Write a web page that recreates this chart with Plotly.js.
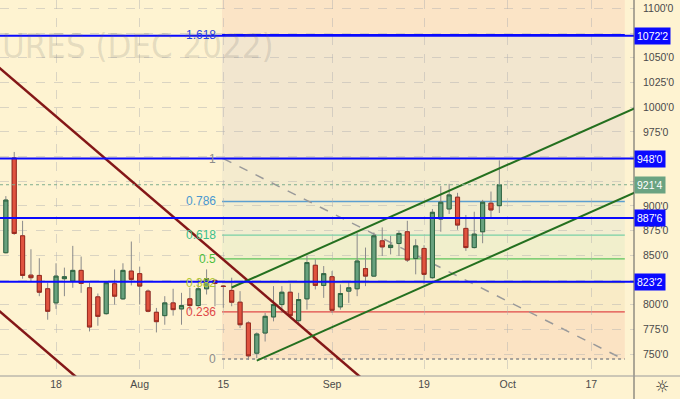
<!DOCTYPE html>
<html><head><meta charset="utf-8">
<script src="https://cdn.plot.ly/plotly-3.0.1.min.js"></script>
<style>html,body{margin:0;padding:0;background:#fef3d1;}#chart{width:680px;height:399px;}</style>
</head><body><div id="chart"></div>
<script>
// ---- data ----
const dates = ["2022-07-08","2022-07-11","2022-07-12","2022-07-13","2022-07-14","2022-07-15","2022-07-18","2022-07-19","2022-07-20","2022-07-21","2022-07-22","2022-07-25","2022-07-26","2022-07-27","2022-07-28","2022-07-29","2022-08-01","2022-08-02","2022-08-03","2022-08-04","2022-08-05","2022-08-08","2022-08-09","2022-08-10","2022-08-11","2022-08-12","2022-08-15","2022-08-16","2022-08-17","2022-08-18","2022-08-19","2022-08-22","2022-08-23","2022-08-24","2022-08-25","2022-08-26","2022-08-29","2022-08-30","2022-08-31","2022-09-01","2022-09-02","2022-09-06","2022-09-07","2022-09-08","2022-09-09","2022-09-12","2022-09-13","2022-09-14","2022-09-15","2022-09-16","2022-09-19","2022-09-20","2022-09-21","2022-09-22","2022-09-23","2022-09-26","2022-09-27","2022-09-28","2022-09-29","2022-09-30"];
const futureDates = ["2022-10-03","2022-10-04","2022-10-05","2022-10-06","2022-10-07","2022-10-10","2022-10-11","2022-10-12","2022-10-13","2022-10-14","2022-10-17","2022-10-18","2022-10-19","2022-10-20","2022-10-21"];
const opens  = [852.7,948.6,869.8,830,829.7,816.2,801.9,826.4,824,834.8,817.2,808,791,821.3,806,834.1,831.5,813.8,792.4,789,801.9,795.8,806,799.2,816.2,824.7,819,814.5,802.6,781.6,751,771.4,787.7,800.2,812.7,783.9,806,840,819.6,828.4,797.9,813.8,816.2,836.6,829,864.7,857.9,862,873.9,846.8,857,827.4,886.8,897,908.9,877.3,857.9,873.9,902.8,900.3];
const highs  = [910,954.7,885,856.2,847.1,822.3,842,837.6,859.6,848.8,822.3,811.4,824,835.8,842,864,838.6,815.5,796.8,808.7,816.2,812.1,817.2,826.4,835.8,826,820,827.4,813.8,783.2,772,791.8,818.9,818.9,821.6,812.1,849.4,846,839.2,834.1,820.6,824,872.5,857.9,873.2,878.3,869.8,874.9,885,866.4,860.3,897,920.1,922.4,913.3,890.9,894.2,906.2,914.6,946.2];
const lows   = [852,870.8,826.4,824,808.7,784.9,795.8,808.7,817.2,812.1,773,778.8,790,800.2,805,819.6,800.2,792.4,772,779.8,789,779.8,794.4,798,810.4,798.5,797,798.5,776.5,744.2,746,762.8,783.2,791.8,788,781.6,795.1,815.5,807,791.8,795.1,801.9,808.7,818.9,828.4,849.4,851,849.4,843.3,830.8,820.6,826.4,873.9,891.9,875.9,854.5,857,862.3,888.5,892.9];
const closes = [906,872.2,829.7,827.4,812.7,793.4,829,828.4,834.8,821.6,777.5,788.3,822.3,808.7,834.8,825.7,818.9,793.4,782.9,801.9,795.1,799.2,799.2,816.2,826.4,821.6,818.5,802.6,779.8,748.3,770.4,788.3,800.2,812.7,789,805.3,842.7,819.6,831.5,794.4,811.4,817.2,844.3,829,869.8,858.6,860.3,872.2,845.3,859.6,830.8,893.6,903.8,911.2,880.7,857.9,871.5,903.8,896,921.5];

const tickDates  = ["2022-07-18","2022-08-01","2022-08-15","2022-09-01","2022-09-19","2022-10-03","2022-10-17"];
const tickLabels = ["18","Aug","15","Sep","19","Oct","17"];
const priceTicks = [750,775,800,825,850,875,900,925,950,975,1000,1025,1050,1075,1100];
const priceTickLabels = ["750'0","775'0","800'0","","850'0","875'0","900'0","","","975'0","1000'0","1025'0","1050'0","","1100'0"];

const levelPrices = [1072.25, 948, 887.75, 823.25];
const levelLabels = ["1072'2","948'0","887'6","823'2"];
const lastPrice = 921.5;
const lastPriceLabel = "921'4";

const fibRatios = [0, 0.236, 0.382, 0.5, 0.618, 0.786, 1, 1.618];
const fibLabels = ["0","0.236","0.382","0.5","0.618","0.786","1","1.618"];
const fibHigh = ["2022-08-15", 948];
const fibLow  = ["2022-10-21", 745];

const maroonUpper = [["2022-07-08",1034.3],["2022-08-31",758.6]];
const maroonLower = [["2022-07-08",787.9],["2022-07-15",751.6]];
const channelUpper = [["2022-08-16",817.5],["2022-10-21",994.5]];
const channelLower = [["2022-08-19",743.4],["2022-10-21",909.1]];

const watermark = "URES (DEC 2022)";

// ---- build ----
const allDates = dates.concat(futureDates);
const idx = d => allDates.indexOf(d);
const xs = dates.map(idx);
const xRange = [-0.7, 75.1];
const yRange = [727.9, 1108.5];

const fibLineColors  = ['#8c8c8c','#e04848','#c2c94a','#5cc45a','#78d0a4','#5b9fd0','#8c8c8c','#0a0aff'];
const fibLabelColors = ['#8c8c8c','#e04848','#b0c636','#4cbf3c','#3cbf8c','#4a98d0','#8c8c8c','#2b44e0'];
const bandColors = ['#fbe3c3','#f9ebc6','#f4efca','#f1efcc','#f2edd0','#f4ebce','#f2e6cf','#fbe4c6'];

const traces = [];
// wicks
traces.push({type:'candlestick', x:xs, open:opens, high:highs, low:lows, close:closes,
  increasing:{line:{color:'#8a8a8a',width:1}, fillcolor:'#68a17e'},
  decreasing:{line:{color:'#8a8a8a',width:1}, fillcolor:'#e0533f'},
  hoverinfo:'skip', showlegend:false});
// bodies
traces.push({type:'candlestick', x:xs, open:opens, close:closes,
  high:opens.map((o,i)=>Math.max(o,closes[i])), low:opens.map((o,i)=>Math.min(o,closes[i])),
  increasing:{line:{color:'#2f6640',width:1}, fillcolor:'#68a17e'},
  decreasing:{line:{color:'#9b2a1e',width:1}, fillcolor:'#e0533f'},
  hoverinfo:'skip', showlegend:false});

function lineTrace(pts, color, width, extendLeft, extendRight){
  const x0 = idx(pts[0][0]), y0 = pts[0][1], x1 = idx(pts[1][0]), y1 = pts[1][1];
  const s = (y1-y0)/(x1-x0);
  const xa = extendLeft ? xRange[0]-5 : x0;
  const xb = extendRight ? xRange[1]+5 : x1;
  return {type:'scatter', mode:'lines', x:[xa,xb], y:[y0+s*(xa-x0), y0+s*(xb-x0)],
    line:{color:color,width:width}, hoverinfo:'skip', showlegend:false};
}
traces.push(lineTrace(maroonUpper,'#841717',2.5,true,true));
traces.push(lineTrace(maroonLower,'#841717',2.5,true,true));
traces.push(lineTrace(channelUpper,'#24701f',2,false,true));
traces.push(lineTrace(channelLower,'#24701f',2,false,true));

const shapes = [];
const fx0 = idx(fibHigh[0]), fx1 = idx(fibLow[0]);
const fibPrice = r => fibLow[1] + r*(fibHigh[1]-fibLow[1]);
for(let i=0;i<fibRatios.length;i++){
  const lo = fibPrice(fibRatios[i]);
  const hi = i < fibRatios.length-1 ? fibPrice(fibRatios[i+1]) : yRange[1]+20;
  shapes.push({type:'rect', xref:'x', yref:'y', x0:fx0-0.15, x1:fx1, y0:lo, y1:hi,
    fillcolor:bandColors[i], line:{width:0}, layer:'below'});
}
fibRatios.forEach((r,i)=>{
  shapes.push({type:'line', xref:'x', yref:'y', x0:fx0-0.15, x1:fx1, y0:fibPrice(r), y1:fibPrice(r),
    line:{color:fibLineColors[i], width: (r===0?1.5:1.3), dash:(r===0?'dot':'solid')}, layer:'below'});
});
// fib diagonal
shapes.push({type:'line', xref:'x', yref:'y', x0:fx0, y0:fibHigh[1], x1:fx1-0.2, y1:fibLow[1],
  line:{color:'#9a9a9a', width:1.5, dash:'dash'}, layer:'below'});
// last price dotted
shapes.push({type:'line', xref:'paper', yref:'y', x0:0, x1:1, y0:lastPrice, y1:lastPrice,
  line:{color:'#7fae8e', width:1, dash:'dot'}, layer:'above'});
// blue levels
levelPrices.forEach(p=>{
  shapes.push({type:'line', xref:'paper', yref:'y', x0:0, x1:1, y0:p, y1:p,
    line:{color:'#0a0aff', width:2}, layer:'above'});
});
// axis frame lines
shapes.push({type:'line', xref:'paper', yref:'paper', x0:1, x1:1, y0:-0.07, y1:1, line:{color:'#5a5a5a', width:1}});
shapes.push({type:'line', xref:'paper', yref:'paper', x0:0, x1:1.08, y0:0, y1:0, line:{color:'#9a9a9a', width:1}});

const annotations = [];
annotations.push({xref:'paper', yref:'paper', x:0, y:1-46/376, xanchor:'left', yanchor:'middle',
  text:watermark, showarrow:false,
  font:{family:'Liberation Sans Narrow, DejaVu Sans Condensed, sans-serif', size:34.5, color:'rgba(100,100,100,0.17)'}});
fibRatios.forEach((r,i)=>{
  annotations.push({xref:'x', yref:'y', x:fx0, y:fibPrice(r), xanchor:'right', yanchor:'middle', xshift:-5,
    text:fibLabels[i], showarrow:false, font:{family:'Liberation Sans, sans-serif', size:12, color:fibLabelColors[i]}});
});
levelPrices.forEach((p,i)=>{
  annotations.push({xref:'paper', yref:'y', x:1, y:p, xanchor:'left', yanchor:'middle',
    text:levelLabels[i], showarrow:false, bgcolor:'#0a0aff', borderpad:2,
    font:{family:'Liberation Sans, sans-serif', size:10.5, color:'#ffffff'}});
});
annotations.push({xref:'paper', yref:'y', x:1, y:lastPrice, xanchor:'left', yanchor:'middle',
  text:lastPriceLabel, showarrow:false, bgcolor:'#6aa382', borderpad:2,
  font:{family:'Liberation Sans, sans-serif', size:10.5, color:'#ffffff'}});
annotations.push({xref:'paper', yref:'paper', x:662/634, y:-10/376, xanchor:'center', yanchor:'middle',
  text:'☼', showarrow:false, font:{family:'DejaVu Sans, sans-serif', size:16, color:'#333333'}});

const gridColor = 'rgba(175,175,175,0.45)';
const layout = {
  width:680, height:399,
  margin:{l:0, r:46, t:0, b:23},
  paper_bgcolor:'#fef3d1', plot_bgcolor:'#fef3d1',
  showlegend:false,
  xaxis:{type:'linear', range:xRange, tickvals:tickDates.map(idx), ticktext:tickLabels,
    showgrid:true, gridcolor:gridColor, griddash:'dash', gridwidth:1, zeroline:false, showline:false,
    ticks:'', tickfont:{family:'Liberation Sans, sans-serif', size:10.5, color:'#4a4a4a'},
    rangeslider:{visible:false}, fixedrange:true},
  yaxis:{side:'right', range:yRange, tickvals:priceTicks, ticktext:priceTickLabels,
    showgrid:true, gridcolor:gridColor, griddash:'dash', gridwidth:1, zeroline:false, showline:false,
    ticks:'', ticklabelstandoff:8, tickfont:{family:'Liberation Sans, sans-serif', size:10.5, color:'#4a4a4a'},
    fixedrange:true},
  shapes:shapes, annotations:annotations
};
Plotly.newPlot('chart', traces, layout, {staticPlot:true, displayModeBar:false});
</script></body></html>
